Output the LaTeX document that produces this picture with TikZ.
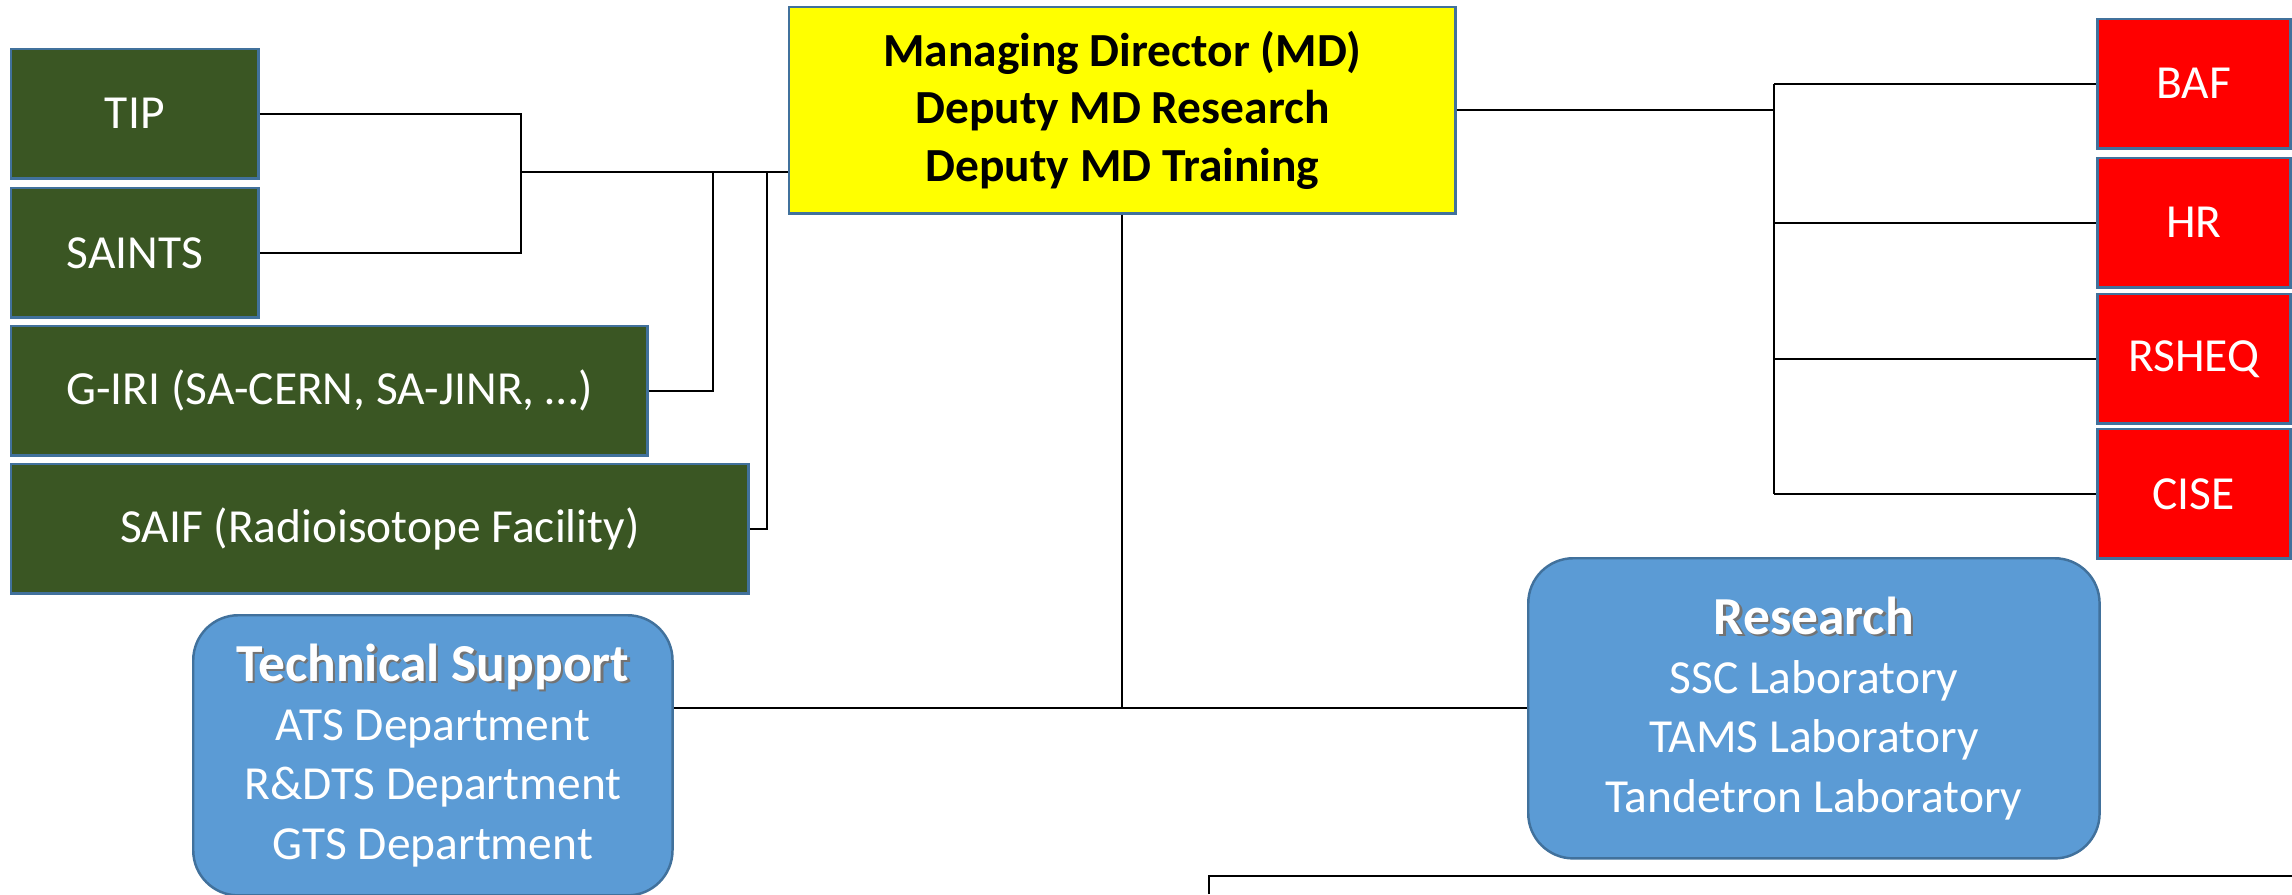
\documentclass[tikz,border=0pt]{standalone}
\usepackage{fontspec}
\setmainfont{Carlito}
\usepackage{xcolor}
\usepackage{tikz}
\usetikzlibrary{positioning,calc}

\definecolor{boxline}{RGB}{65,113,156}
\definecolor{unitgreen}{RGB}{58,86,35}
\definecolor{unitred}{RGB}{255,0,0}
\definecolor{mdyellow}{RGB}{255,255,0}
\definecolor{groupblue}{RGB}{91,155,213}

\newcommand{\titleshadow}[1]{\makebox[0pt][l]{\hspace{0.7pt}\raisebox{-0.7pt}{\textcolor{black!55}{#1}}}#1}

\tikzset{
    unitbox/.style={draw=boxline, line width=0.7pt, anchor=north west, align=center,
        inner sep=0pt, text=white, font=\fontsize{13.5}{16.3}\selectfont},
    greenbox/.style={unitbox, fill=unitgreen, minimum height=1.29cm},
    redbox/.style={unitbox, fill=unitred, minimum width=1.93cm, minimum height=1.29cm},
    mdbox/.style={unitbox, fill=mdyellow, text=black, font=\fontsize{13.5}{16.3}\selectfont\bfseries},
    groupbox/.style={unitbox, fill=groupblue, rounded corners=0.45cm, font=\fontsize{13.5}{16.9}\selectfont},
    link/.style={draw=black, line width=0.55pt}
}

\begin{document}
\begin{tikzpicture}[x=0.01cm, y=-0.01cm]
    \useasboundingbox (0,0) rectangle (2292,894);

    % Units on the left
    \node[greenbox, minimum width=2.47cm] (TIP) at (10,48) {TIP};
    \node[greenbox, minimum width=2.47cm] (SAINTS) at (10,187) {SAINTS};
    \node[greenbox, minimum width=6.36cm] (GIRI) at (10,325) {G-IRI (SA-CERN, SA-JINR, …)};
    \node[greenbox, minimum width=7.37cm] (SAIF) at (10,463) {SAIF (Radioisotope Facility)};

    % Management
    \node[mdbox, minimum width=6.66cm, minimum height=2.06cm] (MD) at (788,6)
        {Managing Director (MD)\\Deputy MD Research\\Deputy MD Training};

    % Support units on the right
    \node[redbox] (BAF) at (2096,18) {BAF};
    \node[redbox] (HR) at (2096,157) {HR};
    \node[redbox] (RSHEQ) at (2096,293) {RSHEQ};
    \node[redbox] (CISE) at (2096,428) {CISE};

    % Divisions
    \node[groupbox, minimum width=5.71cm, minimum height=3.00cm] (RES) at (1527,557)
        {{\fontsize{15.2}{16.9}\selectfont\bfseries\titleshadow{Research}}\\SSC Laboratory\\TAMS Laboratory\\Tandetron Laboratory};
    \node[groupbox, minimum width=4.79cm, minimum height=2.80cm] (TS) at (192,614)
        {{\fontsize{15.2}{16.9}\selectfont\bfseries\titleshadow{Technical Support}}\\ATS Department\\R\&DTS Department\\GTS Department};

    % Left connectors
    \coordinate (lbus) at (521,172);
    \draw[link] (TIP.east) -| (lbus) |- (SAINTS.east);
    \draw[link] (lbus) -- (lbus -| MD.west);
    \draw[link] (GIRI.east) -| (713,172);
    \draw[link] (SAIF.east) -| (767,172);

    % Right connectors
    \coordinate (rbus) at (1774,0 |- MD.east);
    \draw[link] (MD.east) -- (rbus);
    \draw[link] (rbus |- BAF.west) -- (rbus |- CISE.west);
    \foreach \unit in {BAF,HR,RSHEQ,CISE}
        \draw[link] (rbus |- \unit.west) -- (\unit.west);

    % Down to the divisions
    \draw[link] (MD.south) -- (MD.south |- RES.west);
    \draw[link] (TS.east |- RES.west) -- (RES.west);

    % Next box, cut off at the edge
    \coordinate (nextbox) at (1209,876);
    \draw[link, line width=0.7pt] (1209,894) -- (nextbox) -- (2292,876);
\end{tikzpicture}
\end{document}
